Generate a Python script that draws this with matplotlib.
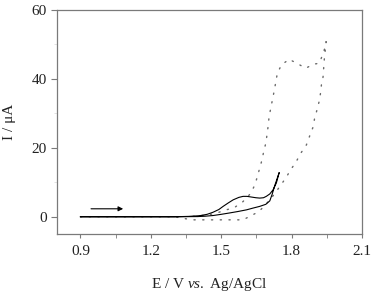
import matplotlib
matplotlib.use('Agg')
from matplotlib import pyplot as plt
from matplotlib.ticker import MultipleLocator

plt.rcParams['font.family'] = ['Liberation Serif', 'DejaVu Serif']
plt.rcParams['mathtext.fontset'] = 'custom'
plt.rcParams['mathtext.rm'] = 'Liberation Serif'
plt.rcParams['mathtext.it'] = 'Liberation Serif:italic'

# solid CV (forward then reverse)
solid_e = [0.90, 1.10, 1.30, 1.36, 1.408, 1.44, 1.465, 1.49, 1.508, 1.53, 1.551, 1.575, 1.593,
           1.61, 1.629, 1.648, 1.664, 1.68, 1.692, 1.707, 1.721, 1.735, 1.747,
           1.738, 1.728, 1.717, 1.707, 1.69, 1.664, 1.635, 1.608, 1.57, 1.536, 1.50,
           1.465, 1.43, 1.40, 1.30, 1.10, 0.90]
solid_i = [0.0, 0.0, 0.0, 0.1, 0.3, 0.7, 1.3, 2.1, 3.0, 4.0, 4.9, 5.6, 5.9,
           5.9, 5.7, 5.5, 5.4, 5.5, 5.9, 6.6, 7.8, 9.8, 12.8,
           11.0, 9.0, 6.5, 4.6, 3.6, 3.0, 2.5, 2.0, 1.5, 1.1, 0.7,
           0.35, 0.15, 0.05, 0.0, 0.0, 0.0]

# dotted CV (forward then reverse)
dot_e = [0.90, 1.10, 1.30, 1.34, 1.38, 1.416, 1.451, 1.486, 1.522, 1.557, 1.593, 1.621, 1.661,
         1.695, 1.725, 1.75, 1.775, 1.796, 1.82, 1.839, 1.863, 1.877, 1.891, 1.898, 1.908,
         1.917, 1.923, 1.927, 1.934, 1.937, 1.940, 1.945, 1.947,
         1.940, 1.930, 1.917, 1.894, 1.860, 1.823, 1.789, 1.756, 1.739, 1.732, 1.725,
         1.718, 1.711, 1.704, 1.700, 1.695, 1.690, 1.681, 1.674, 1.664, 1.654, 1.643,
         1.626, 1.593, 1.557, 1.522, 1.486, 1.45, 1.40, 1.35]
dot_i = [0.0, 0.0, 0.0, -0.5, -0.9, -0.9, -0.9, -0.9, -0.9, -0.9, -0.9, 0.1, 1.5,
         4.0, 6.4, 8.8, 11.2, 13.6, 16.0, 18.4, 20.8, 23.4, 25.9, 28.5, 30.9,
         33.3, 35.7, 38.2, 40.5, 43.4, 46.3, 49.2, 50.7,
         48.5, 46.5, 44.4, 44.2, 43.0, 44.4, 45.6, 43.9, 41.5, 38.8, 36.2,
         33.8, 31.4, 29.0, 26.3, 23.7, 21.3, 18.9, 16.5, 14.1, 11.6, 9.2,
         6.8, 4.4, 2.7, 2.0, 1.2, 0.6, 0.2, 0.0]

x_ticks = [0.9, 1.2, 1.5, 1.8, 2.1]
y_ticks = [0, 20, 40, 60]

fig = plt.figure(figsize=(3.76, 2.92), dpi=100)
ax = fig.add_axes([0.1516, 0.1986, 0.8112, 0.7688])

ax.plot(dot_e, dot_i, color='#6a6a6a', lw=1.0, dashes=(0.9, 5.4), dash_capstyle='round')
ax.plot(solid_e, solid_i, color='black', lw=0.8)

ax.annotate('', xy=(1.082, 2.3), xytext=(0.945, 2.3),
            arrowprops=dict(arrowstyle='-|>', color='black', lw=0.8,
                            mutation_scale=7, shrinkA=0, shrinkB=0))

ax.set_xlim(0.8, 2.1)
ax.set_ylim(-5, 60)
ax.set_xticks(x_ticks)
ax.set_yticks(y_ticks)
ax.xaxis.set_minor_locator(MultipleLocator(0.15))
ax.yaxis.set_minor_locator(MultipleLocator(10))

for s in ax.spines.values():
    s.set_color('#7a7a7a')
    s.set_linewidth(0.9)
ax.tick_params(which='both', direction='out', colors='#7a7a7a', labelcolor='#222222',
               labelsize=11, top=False, right=False)
ax.tick_params(axis='x', which='both', length=3, pad=5)
ax.tick_params(axis='y', which='major', length=4.5, pad=3)
ax.tick_params(axis='y', which='minor', length=2, color='#dddddd')

ax.set_xlabel(r'E / V $\mathit{vs.}$ Ag/AgCl', fontsize=11, color='#222222', labelpad=13)
ax.set_ylabel('I / μA', fontsize=11, color='#222222', labelpad=11)

fig.savefig('out.png', dpi=100)
